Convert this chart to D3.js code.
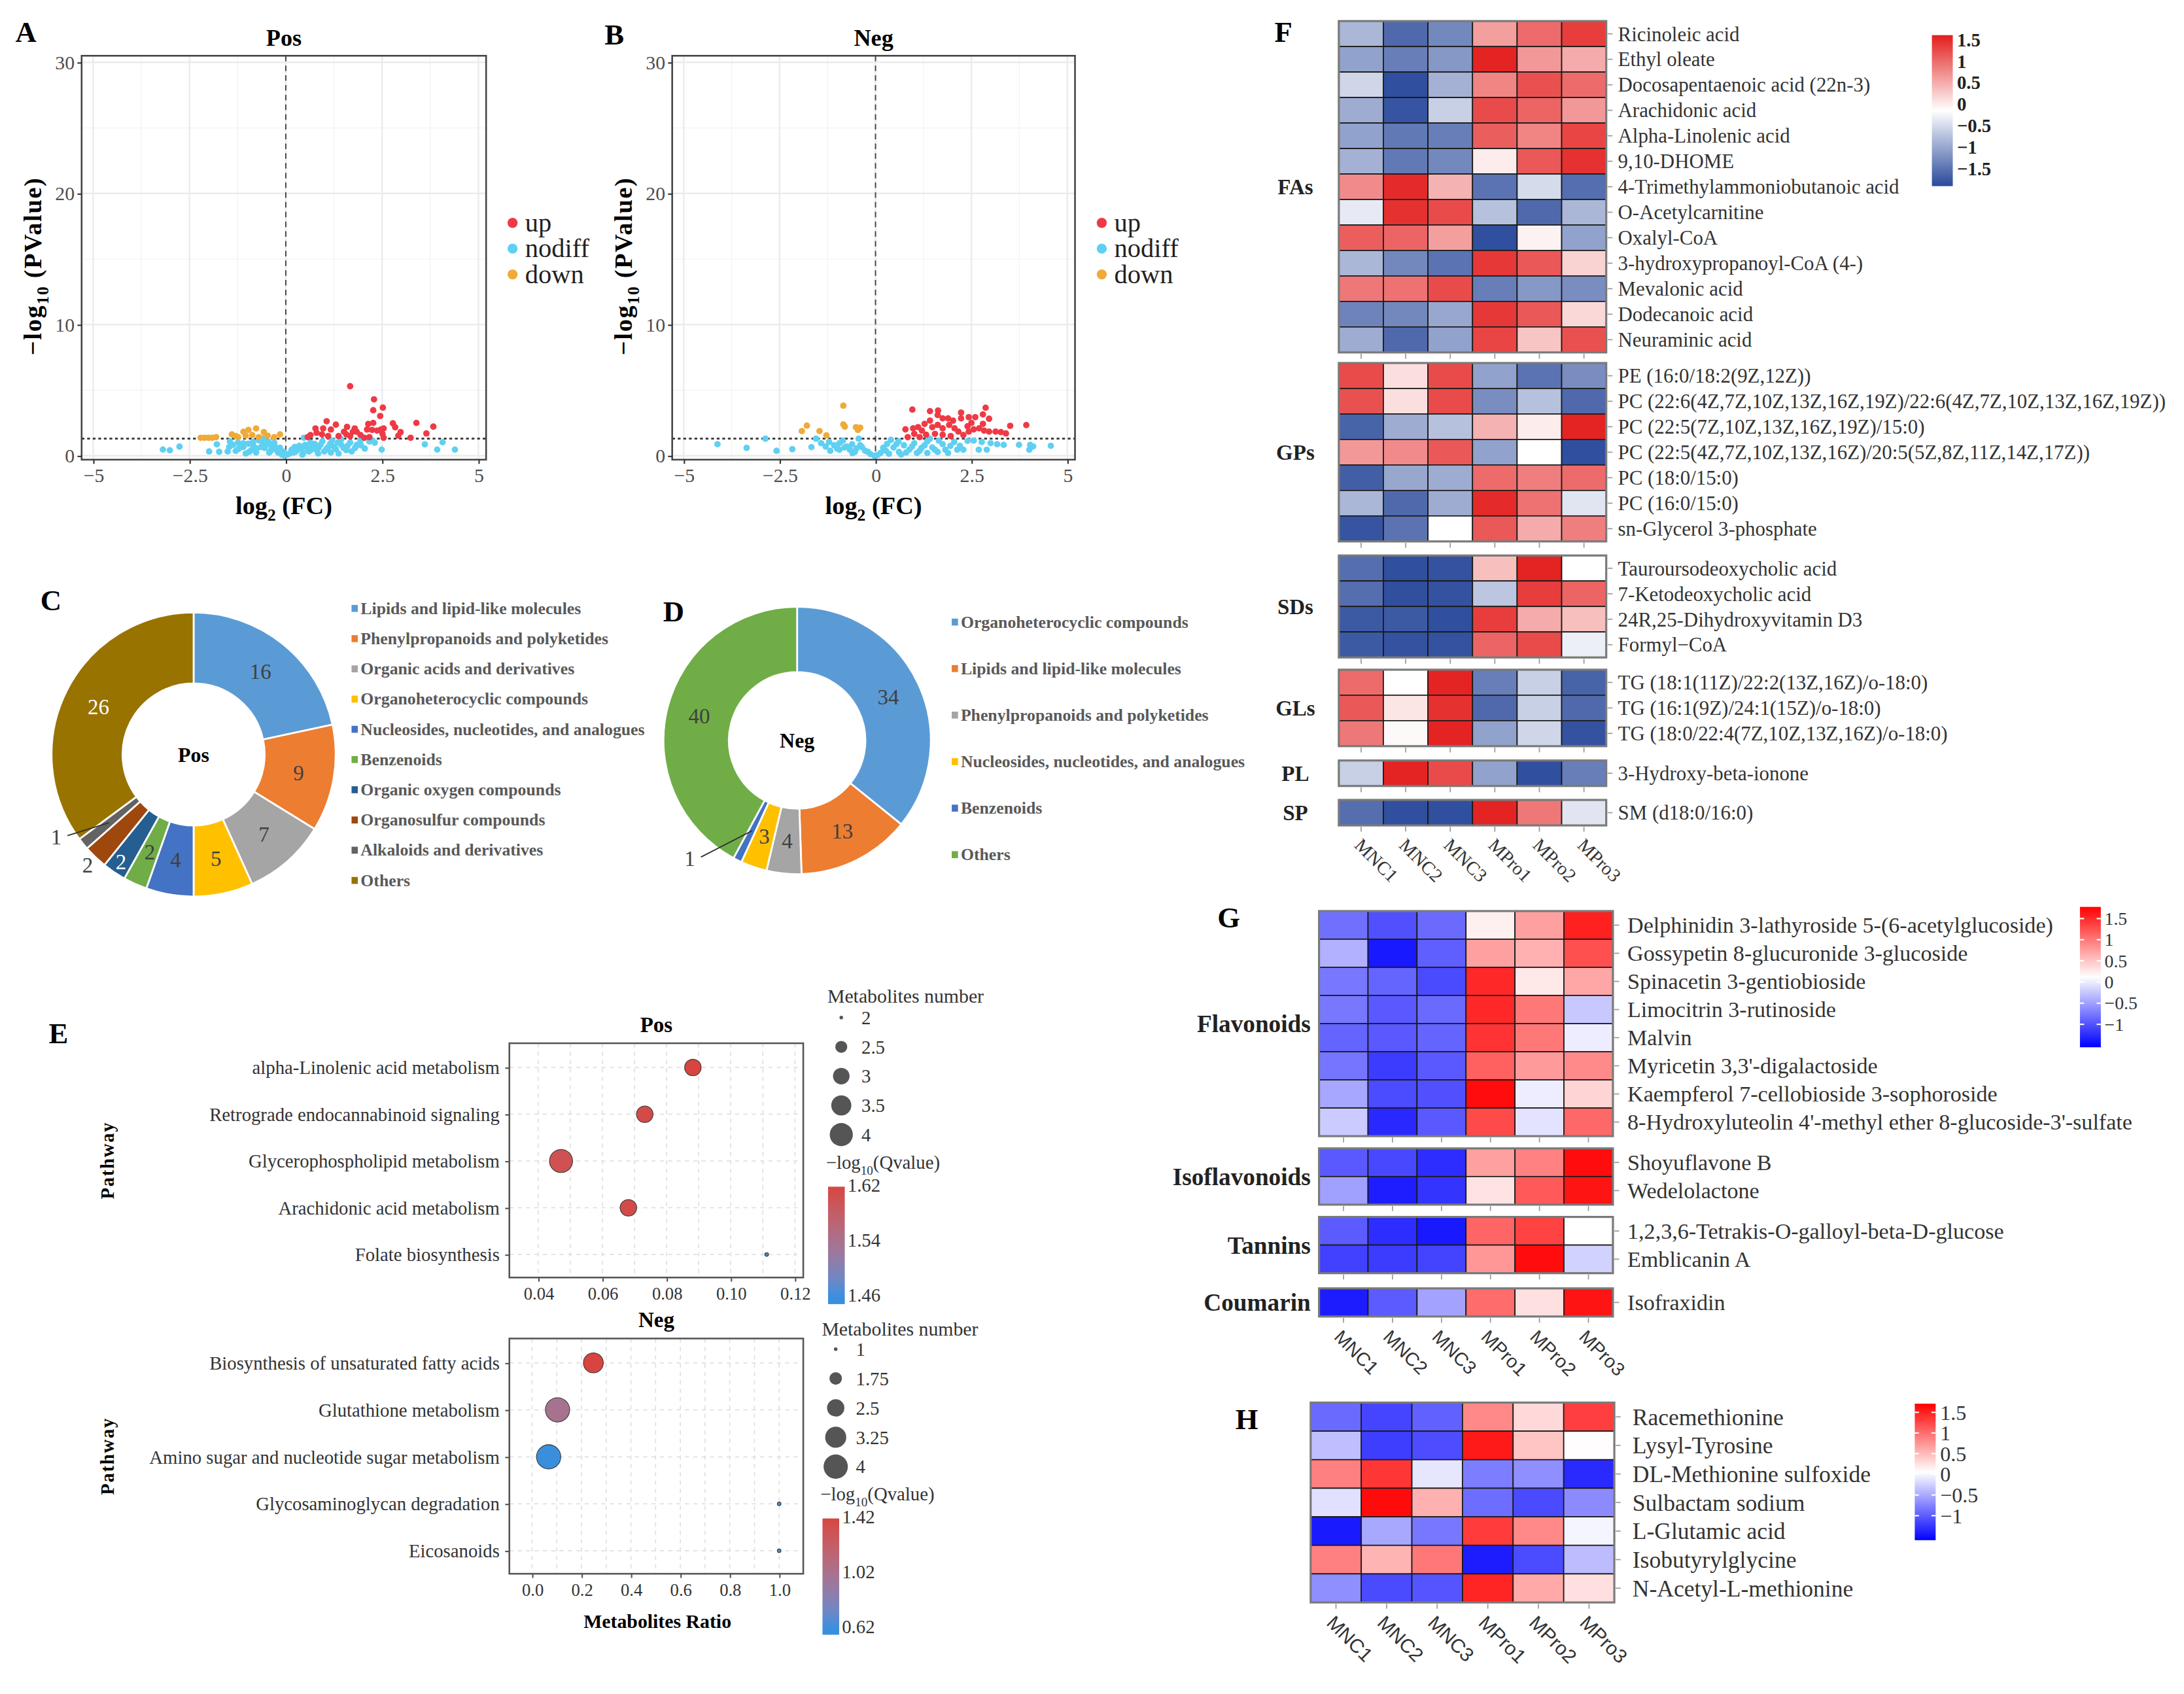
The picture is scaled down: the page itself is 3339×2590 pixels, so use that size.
<!DOCTYPE html>
<html>
<head>
<meta charset="utf-8">
<script src="https://cdn.jsdelivr.net/npm/d3@7"></script>
<style>
html, body { margin: 0; padding: 0; background: #fff; }
svg { display: block; }
</style>
</head>
<body>
<svg id="fig" width="3339" height="2590" viewBox="0 0 1568 1216.2"></svg>
<script>
// ---------- data ----------
// volcano plots: [log2FC, -log10 P]
const posUp = [[1.67,5.3],[2.29,4.3],[2.27,3.47],[2.52,3.67],[2.45,3.03],[1.06,2.63],[1.30,2.37],[1.59,2.2],[1.79,2.08],[2.14,2.42],[2.27,2.5],[2.78,2.47],[2.84,2.17],[3.39,2.5],[3.83,2.22],[3.65,1.7],[2.98,1.8],[2.92,1.53],[3.24,1.37],[0.77,2.08],[0.97,2.08],[0.64,1.58],[0.80,1.75],[0.94,1.63],[1.10,1.5],[1.37,1.5],[1.57,1.63],[1.67,1.5],[1.84,1.83],[1.94,1.58],[2.04,1.37],[2.11,2.0],[2.24,1.97],[2.37,1.92],[2.47,2.0],[2.54,2.08],[2.51,1.67],[2.54,1.37],[2.17,1.42],[1.51,1.83],[1.17,2.0],[0.57,1.42],[1.74,1.83]]
const posDown = [[-2.21,1.37],[-2.11,1.37],[-2.01,1.37],[-1.91,1.37],[-1.81,1.42],[-1.40,1.63],[-1.30,1.5],[-1.10,1.83],[-0.97,1.97],[-0.77,2.08],[-1.04,1.53],[-0.87,1.58],[-0.57,1.8],[-0.47,1.53],[-0.30,1.42],[-0.15,1.63],[-0.70,1.42],[-1.24,1.42]]
const posNodiff = [[-3.19,0.47],[-3.01,0.42],[-2.76,0.7],[-1.99,0.33],[-1.79,0.87],[-1.73,0.3],[-1.51,0.33],[-1.30,0.37],[-1.04,0.17],[-1.37,0.83],[-1.24,1.0],[-1.10,0.67],[-0.97,0.92],[-0.84,0.75],[-0.70,1.17],[-0.57,1.33],[-0.64,0.67],[-0.50,0.83],[-0.37,0.5],[-0.27,0.67],[-0.20,0.25],[-0.10,0.08],[-0.03,0.0],[-0.90,0.42],[-0.77,0.25],[-0.43,0.25],[-1.24,0.5],[-1.47,0.67],[-0.30,1.0],[0.10,0.17],[0.20,0.25],[0.30,0.42],[0.40,0.58],[0.47,1.37],[0.50,0.83],[0.60,0.33],[0.70,0.67],[0.80,0.42],[0.90,0.83],[1.00,0.33],[1.10,0.67],[1.20,1.17],[1.30,0.5],[1.44,0.83],[1.57,0.42],[1.71,0.33],[1.67,1.0],[1.84,0.83],[1.94,1.17],[2.17,1.08],[2.31,1.0],[2.49,0.47],[3.61,0.87],[3.93,0.47],[4.07,1.03],[4.39,0.47],[0.23,0.67],[0.64,1.0],[1.17,0.25],[1.37,0.17],[1.44,1.25],[0.43,0.08],[0.84,0.17],[-1.45,1.1],[-1.2,0.6],[-0.95,0.3],[-0.85,1.05],[-0.6,0.95],[-0.45,1.05],[-0.35,0.8],[-0.25,0.45],[-0.15,0.6],[-0.05,0.3],[0.05,0.1],[0.15,0.45],[0.25,0.3],[0.35,0.75],[0.45,0.2],[0.55,0.6],[0.65,0.45],[0.75,0.9],[0.85,0.6],[0.95,1.1],[1.05,0.5],[1.15,0.9],[1.25,0.7],[1.35,1.0],[1.5,0.6],[1.6,0.75],[1.8,0.6],[1.95,0.8],[2.05,0.55],[2.25,1.15],[-0.75,0.55],[-0.55,0.6],[-1.1,0.95],[-0.4,0.35]]
const negUp = [[0.96,3.52],[1.42,3.4],[1.63,3.45],[2.23,3.29],[2.87,3.66],[2.80,3.15],[2.96,2.82],[3.51,2.28],[3.93,2.34],[1.62,3.1],[1.75,2.85],[1.89,2.85],[2.02,2.68],[2.23,2.85],[2.43,2.94],[2.60,2.94],[2.50,2.5],[2.40,2.25],[2.80,2.43],[1.42,2.68],[1.28,2.43],[1.11,2.18],[0.98,2.09],[0.78,2.01],[1.21,1.92],[1.01,1.67],[0.84,1.42],[1.48,2.18],[1.62,2.35],[1.75,2.09],[1.92,2.35],[2.06,2.09],[2.16,1.84],[1.96,1.5],[2.29,1.58],[2.56,2.01],[2.70,2.09],[2.96,1.84],[3.13,1.84],[3.27,1.8],[3.40,1.7],[1.55,1.67],[1.32,1.6],[1.15,1.42],[1.75,1.6],[2.43,1.84],[2.83,1.92]]
const negDown = [[-0.84,3.82],[-0.84,2.39],[-0.80,2.22],[-1.79,2.3],[-1.92,1.88],[-1.46,1.88],[-1.28,1.55],[-0.51,2.17],[-0.40,2.14],[-0.46,1.97]]
const negNodiff = [[-4.12,0.88],[-3.36,0.6],[-2.87,1.3],[-2.58,0.38],[-2.17,0.5],[-1.67,0.66],[-1.55,1.3],[-1.42,0.96],[-1.21,1.05],[-1.08,0.8],[-0.94,0.46],[-1.18,0.38],[-0.81,0.63],[-0.67,0.46],[-0.54,0.29],[-0.44,1.3],[-0.40,0.8],[-0.27,0.38],[-0.13,0.12],[-0.03,0.0],[-0.61,0.88],[-0.94,0.96],[0.13,0.21],[0.27,0.38],[0.40,1.21],[0.47,0.63],[0.61,0.29],[0.74,0.8],[0.88,0.46],[1.01,0.96],[1.15,0.38],[1.28,0.8],[1.42,1.3],[1.48,0.63],[1.62,0.29],[1.75,0.88],[1.82,0.46],[2.13,0.46],[2.29,0.46],[2.40,1.13],[2.56,1.16],[2.77,1.05],[2.69,0.46],[2.90,0.46],[3.00,0.96],[3.17,0.88],[3.34,0.83],[3.74,0.83],[4.03,0.83],[4.11,0.71],[4.01,0.46],[4.57,0.76],[1.35,0.21],[0.67,0.09],[1.08,0.21],[1.89,0.21],[-1.3,0.7],[-1.0,0.55],[-0.75,0.7],[-0.5,0.55],[-0.2,0.3],[-0.35,0.65],[0.05,0.05],[0.2,0.6],[0.35,0.15],[0.55,0.9],[0.8,0.25],[0.95,0.7],[1.2,0.6],[1.35,1.1],[1.55,0.45],[1.65,1.15],[1.95,0.75],[2.05,1.05],[2.2,0.75],[0.3,0.9],[0.6,1.1],[-0.6,0.2],[-0.85,1.15]]
const volcanoXTicks = [-5, -2.5, 0, 2.5, 5]
const volcanoXMinor = [-3.75, -1.25, 1.25, 3.75]
const volcanoYTicks = [0, 10, 20, 30]
const volcanoYMinor = [5, 15, 25]
const pThreshold = 1.3

// class donuts
const classPosNames = ["Lipids and lipid-like molecules", "Phenylpropanoids and polyketides", "Organic acids and derivatives", "Organoheterocyclic compounds", "Nucleosides, nucleotides, and analogues", "Benzenoids", "Organic oxygen compounds", "Organosulfur compounds", "Alkaloids and derivatives", "Others"]
const classPosCounts = [16, 9, 7, 5, 4, 2, 2, 2, 1, 26]
const classNegNames = ["Organoheterocyclic compounds", "Lipids and lipid-like molecules", "Phenylpropanoids and polyketides", "Nucleosides, nucleotides, and analogues", "Benzenoids", "Others"]
const classNegCounts = [34, 13, 4, 3, 1, 40]

// KEGG enrichment
const pathPosNames = ["alpha-Linolenic acid metabolism", "Retrograde endocannabinoid signaling", "Glycerophospholipid metabolism", "Arachidonic acid metabolism", "Folate biosynthesis"]
const pathPosRatio = [0.0882, 0.0732, 0.0471, 0.0681, 0.1112]
const pathPosCount = [3, 3, 4, 3, 2]
const pathPosQ = [1.62, 1.61, 1.60, 1.61, 1.46]
const pathPosRatioTicks = [0.04, 0.06, 0.08, 0.10, 0.12]
const pathPosRatioMinor = [0.05, 0.07, 0.09, 0.11]
const pathPosSizeTicks = [2, 2.5, 3, 3.5, 4]
const pathPosQTicks = [1.46, 1.54, 1.62]
const pathNegNames = ["Biosynthesis of unsaturated fatty acids", "Glutathione metabolism", "Amino sugar and nucleotide sugar metabolism", "Glycosaminoglycan degradation", "Eicosanoids"]
const pathNegRatio = [0.248, 0.103, 0.067, 1.0, 1.0]
const pathNegCount = [3, 4, 4, 1, 1]
const pathNegQ = [1.42, 1.0, 0.62, 0.64, 0.64]
const pathNegRatioTicks = [0.0, 0.2, 0.4, 0.6, 0.8, 1.0]
const pathNegRatioMinor = [0.1, 0.3, 0.5, 0.7, 0.9]
const pathNegSizeTicks = [1, 1.75, 2.5, 3.25, 4]
const pathNegQTicks = [0.62, 1.02, 1.42]

// heatmaps
const samples = ["MNC1", "MNC2", "MNC3", "MPro1", "MPro2", "MPro3"]

const fFAsNames = ["Ricinoleic acid", "Ethyl oleate", "Docosapentaenoic acid (22n-3)", "Arachidonic acid", "Alpha-Linolenic acid", "9,10-DHOME", "4-Trimethylammoniobutanoic acid", "O-Acetylcarnitine", "Oxalyl-CoA", "3-hydroxypropanoyl-CoA (4-)", "Mevalonic acid", "Dodecanoic acid", "Neuraminic acid"]
const fFAsValues = [
  [-0.85, -1.6, -1.3, 0.6, 1.0, 1.35],
  [-1.05, -1.4, -1.15, 1.55, 0.65, 0.5],
  [-0.55, -1.85, -0.9, 0.8, 1.2, 1.0],
  [-0.95, -1.8, -0.6, 1.25, 1.05, 0.65],
  [-1.05, -1.45, -1.4, 1.1, 0.8, 1.3],
  [-0.9, -1.45, -1.3, 0.0, 1.15, 1.45],
  [0.75, 1.5, 0.45, -1.5, -0.5, -1.55],
  [-0.35, 1.45, 1.25, -0.75, -1.6, -0.85],
  [1.1, 1.05, 0.6, -1.85, -0.05, -1.05],
  [-0.85, -1.3, -1.5, 1.4, 1.15, 0.2],
  [0.9, 0.95, 1.25, -1.4, -1.15, -1.25],
  [-1.35, -1.3, -1.0, 1.4, 1.15, 0.15],
  [-0.95, -1.6, -1.05, 1.3, 0.3, 1.2]
]
const fGPsNames = ["PE (16:0/18:2(9Z,12Z))", "PC (22:6(4Z,7Z,10Z,13Z,16Z,19Z)/22:6(4Z,7Z,10Z,13Z,16Z,19Z))", "PC (22:5(7Z,10Z,13Z,16Z,19Z)/15:0)", "PC (22:5(4Z,7Z,10Z,13Z,16Z)/20:5(5Z,8Z,11Z,14Z,17Z))", "PC (18:0/15:0)", "PC (16:0/15:0)", "sn-Glycerol 3-phosphate"]
const fGPsValues = [
  [1.25, 0.1, 1.25, -1.05, -1.5, -1.25],
  [1.2, 0.1, 1.25, -1.25, -0.75, -1.6],
  [-1.65, -0.95, -0.75, 0.45, 0.0, 1.55],
  [0.65, 0.75, 1.15, -1.05, -0.15, -1.85],
  [-1.7, -1.0, -0.95, 1.0, 0.85, 1.0],
  [-0.85, -1.6, -0.95, 1.5, 0.95, -0.4],
  [-1.8, -1.5, -0.15, 1.15, 0.5, 0.85]
]
const fSDsNames = ["Tauroursodeoxycholic acid", "7-Ketodeoxycholic acid", "24R,25-Dihydroxyvitamin D3", "Formyl\u2212CoA"]
const fSDsValues = [
  [-1.55, -1.85, -1.82, 0.35, 1.55, -0.15],
  [-1.55, -1.85, -1.82, -0.7, 1.35, 1.05],
  [-1.75, -1.75, -1.85, 1.35, 0.5, 0.35],
  [-1.75, -1.82, -1.82, 1.05, 1.25, -0.3]
]
const fGLsNames = ["TG (18:1(11Z)/22:2(13Z,16Z)/o-18:0)", "TG (16:1(9Z)/24:1(15Z)/o-18:0)", "TG (18:0/22:4(7Z,10Z,13Z,16Z)/o-18:0)"]
const fGLsValues = [
  [1.0, -0.15, 1.55, -1.4, -0.6, -1.65],
  [1.15, 0.05, 1.45, -1.6, -0.6, -1.6],
  [0.9, -0.1, 1.55, -1.05, -0.55, -1.82]
]
const fPLNames = ["3-Hydroxy-beta-ionone"]
const fPLValues = [[-0.6, 1.55, 1.25, -1.05, -1.85, -1.4]]
const fSPNames = ["SM (d18:0/16:0)"]
const fSPValues = [[-1.55, -1.85, -1.85, 1.55, 0.9, -0.4]]
const fLegendTicks = [1.5, 1, 0.5, 0, -0.5, -1, -1.5]

const gFlavNames = ["Delphinidin 3-lathyroside 5-(6-acetylglucoside)", "Gossypetin 8-glucuronide 3-glucoside", "Spinacetin 3-gentiobioside", "Limocitrin 3-rutinoside", "Malvin", "Myricetin 3,3'-digalactoside", "Kaempferol 7-cellobioside 3-sophoroside", "8-Hydroxyluteolin 4'-methyl ether 8-glucoside-3'-sulfate"]
const gFlavValues = [
  [-0.81, -1.02, -0.85, 0.22, 0.74, 1.57],
  [-0.39, -1.38, -0.92, 0.74, 0.63, 1.26],
  [-0.76, -0.89, -1.06, 1.52, 0.27, 0.7],
  [-0.76, -0.96, -0.85, 1.52, 1.0, -0.24],
  [-0.89, -0.96, -0.89, 1.45, 1.0, 0.0],
  [-0.78, -1.15, -0.96, 1.15, 0.78, 0.88],
  [-0.45, -1.05, -1.02, 1.7, 0.0, 0.4],
  [-0.22, -1.27, -0.96, 1.3, -0.06, 1.1]
]
const gIsoNames = ["Shoyuflavone B", "Wedelolactone"]
const gIsoValues = [
  [-0.96, -1.07, -1.25, 0.74, 0.94, 1.7],
  [-0.5, -1.35, -1.2, 0.3, 1.2, 1.65]
]
const gTanNames = ["1,2,3,6-Tetrakis-O-galloyl-beta-D-glucose", "Emblicanin A"]
const gTanValues = [
  [-0.95, -1.25, -1.38, 1.12, 1.35, 0.12],
  [-1.12, -1.15, -1.1, 0.8, 1.7, -0.17]
]
const gCouNames = ["Isofraxidin"]
const gCouValues = [[-1.36, -0.95, -0.48, 1.08, 0.32, 1.65]]
const gLegendTicks = [1.5, 1, 0.5, 0, -0.5, -1]

const hNames = ["Racemethionine", "Lysyl-Tyrosine", "DL-Methionine sulfoxide", "Sulbactam sodium", "L-Glutamic acid", "Isobutyrylglycine", "N-Acetyl-L-methionine"]
const hValues = [
  [-0.91, -1.15, -0.97, 0.83, 0.3, 1.3],
  [-0.36, -1.2, -1.1, 1.54, 0.44, 0.07],
  [0.88, 1.36, -0.11, -0.79, -0.67, -1.33],
  [-0.14, 1.64, 0.57, -0.89, -1.12, -0.7],
  [-1.43, -0.51, -0.82, 1.33, 0.82, -0.01],
  [0.88, 0.54, 0.93, -1.42, -1.11, -0.38],
  [-0.67, -1.12, -1.05, 1.47, 0.61, 0.26]
]
const hLegendTicks = [1.5, 1, 0.5, 0, -0.5, -1]

// ---------- drawing ----------
const SERIF = '"Liberation Serif","Times New Roman",serif'
const SANS = '"Liberation Sans",Arial,sans-serif'
const svg = d3.select("#fig")
svg.append("rect").attr("width", 1568).attr("height", 1216.2).attr("fill", "#fff")
const defs = svg.append("defs")

function label(x, y, txt, size) {
  svg.append("text").attr("x", x).attr("y", y).text(txt)
    .attr("font-family", SERIF).attr("font-weight", "bold").attr("font-size", size || 21).attr("fill", "#000")
}
label(11, 30, "A"); label(434, 32, "B"); label(29, 438, "C"); label(476, 446, "D")
label(35, 749, "E"); label(915, 30, "F"); label(874, 666, "G"); label(887, 1026, "H")

// volcano
const upColor = "#EE3A46", nodiffColor = "#5FD0F2", downColor = "#EFAA38"

function volcano(o) {
  const g = svg.append("g")
  const x = d3.scaleLinear().domain([-5.3, 5.2]).range([o.left, o.right])
  const y = d3.scaleLinear().domain([-0.3, 30.5]).range([o.bottom, o.top])

  g.selectAll(".mx").data(volcanoXMinor).join("line")
    .attr("x1", d => x(d)).attr("x2", d => x(d)).attr("y1", o.top).attr("y2", o.bottom)
    .attr("stroke", "#f3f3f3").attr("stroke-width", 0.6)
  g.selectAll(".my").data(volcanoYMinor).join("line")
    .attr("y1", d => y(d)).attr("y2", d => y(d)).attr("x1", o.left).attr("x2", o.right)
    .attr("stroke", "#f3f3f3").attr("stroke-width", 0.6)
  g.selectAll(".gx").data(volcanoXTicks).join("line")
    .attr("x1", d => x(d)).attr("x2", d => x(d)).attr("y1", o.top).attr("y2", o.bottom)
    .attr("stroke", "#ebebeb").attr("stroke-width", 1.1)
  g.selectAll(".gy").data(volcanoYTicks).join("line")
    .attr("y1", d => y(d)).attr("y2", d => y(d)).attr("x1", o.left).attr("x2", o.right)
    .attr("stroke", "#ebebeb").attr("stroke-width", 1.1)

  g.append("line").attr("x1", x(0)).attr("x2", x(0)).attr("y1", o.top).attr("y2", o.bottom)
    .attr("stroke", "#444").attr("stroke-width", 0.9).attr("stroke-dasharray", "4,3")
  g.append("line").attr("x1", o.left).attr("x2", o.right).attr("y1", y(pThreshold)).attr("y2", y(pThreshold))
    .attr("stroke", "#333").attr("stroke-width", 1.3).attr("stroke-dasharray", "2,2")

  const layers = [[o.nodiff, nodiffColor], [o.down, downColor], [o.up, upColor]]
  layers.forEach(([pts, col]) => {
    g.append("g").selectAll("circle").data(pts).join("circle")
      .attr("cx", d => x(d[0])).attr("cy", d => y(d[1])).attr("r", 2.3).attr("fill", col)
  })

  g.append("rect").attr("x", o.left).attr("y", o.top).attr("width", o.right - o.left).attr("height", o.bottom - o.top)
    .attr("fill", "none").attr("stroke", "#444").attr("stroke-width", 1.2)

  const ax = g.append("g").attr("transform", `translate(0,${o.bottom})`)
    .call(d3.axisBottom(x).tickValues(volcanoXTicks).tickSize(3).tickPadding(3).tickFormat(d3.format("~g")))
  const ay = g.append("g").attr("transform", `translate(${o.left},0)`)
    .call(d3.axisLeft(y).tickValues(volcanoYTicks).tickSize(3).tickPadding(2))
  ;[ax, ay].forEach(a => {
    a.select(".domain").remove()
    a.attr("font-family", SERIF).attr("font-size", 14)
    a.selectAll("text").attr("fill", "#4d4d4d")
    a.selectAll("line").attr("stroke", "#333")
  })

  g.append("text").attr("x", (o.left + o.right) / 2).attr("y", o.top - 7).attr("text-anchor", "middle")
    .attr("font-family", SERIF).attr("font-weight", "bold").attr("font-size", 17).text(o.title)

  const xl = g.append("text").attr("x", (o.left + o.right) / 2).attr("y", o.bottom + 39).attr("text-anchor", "middle")
    .attr("font-family", SERIF).attr("font-weight", "bold").attr("font-size", 18)
  xl.append("tspan").text("log")
  xl.append("tspan").text("2").attr("font-size", 12).attr("dy", 5)
  xl.append("tspan").text(" (FC)").attr("dy", -5)

  const yl = g.append("text").attr("transform", `translate(${o.left - 29},${(o.top + o.bottom) / 2 + 6}) rotate(-90)`)
    .attr("text-anchor", "middle").attr("font-family", SERIF).attr("font-weight", "bold").attr("font-size", 18)
    .attr("letter-spacing", 0.8)
  yl.append("tspan").text("\u2212log")
  yl.append("tspan").text("10").attr("font-size", 12).attr("dy", 5)
  yl.append("tspan").text(" (PValue)").attr("dy", -5)

  const leg = g.append("g").attr("transform", `translate(${o.legendX},160)`)
  const legItems = [["up", upColor], ["nodiff", nodiffColor], ["down", downColor]]
  leg.selectAll("circle").data(legItems).join("circle")
    .attr("cx", 0).attr("cy", (d, i) => i * 18.5).attr("r", 3.6).attr("fill", d => d[1])
  leg.selectAll("text").data(legItems).join("text")
    .attr("x", 9).attr("y", (d, i) => i * 18.5).attr("dy", "0.32em")
    .attr("font-family", SERIF).attr("font-size", 19).attr("fill", "#222").text(d => d[0])
}

volcano({ left: 58.6, right: 349, top: 40, bottom: 330, title: "Pos", up: posUp, down: posDown, nodiff: posNodiff, legendX: 368 })
volcano({ left: 482.6, right: 771.8, top: 40, bottom: 330, title: "Neg", up: negUp, down: negDown, nodiff: negNodiff, legendX: 791 })

// donuts
const excelColors = ["#5B9BD5", "#ED7D31", "#A5A5A5", "#FFC000", "#4472C4", "#70AD47", "#255E91", "#9E480E", "#636363", "#997300"]

function donut(o) {
  const g = svg.append("g").attr("transform", `translate(${o.cx},${o.cy})`)
  const pie = d3.pie().sort(null).value(d => d)(o.counts)
  const arc = d3.arc().innerRadius(o.r0).outerRadius(o.r1)
  g.selectAll("path").data(pie).join("path")
    .attr("d", arc).attr("fill", (d, i) => o.colors[i]).attr("stroke", "#fff").attr("stroke-width", 1.3)

  const rad = a => a * Math.PI / 180
  pie.forEach((d, i) => {
    const place = o.place[i] || {}
    const mid = (d.startAngle + d.endAngle) / 2
    let px, py
    if (place.r) {
      const a = place.a != null ? rad(place.a) : mid
      px = Math.sin(a) * place.r; py = -Math.cos(a) * place.r
    } else {
      [px, py] = arc.centroid(d)
    }
    if (place.leader) {
      const ex = Math.sin(mid) * place.lr, ey = -Math.cos(mid) * place.lr
      g.append("line").attr("x1", px + 8).attr("y1", py - 1).attr("x2", ex).attr("y2", ey)
        .attr("stroke", "#333").attr("stroke-width", 0.9)
    }
    g.append("text").attr("x", px).attr("y", py).attr("dy", "0.35em").attr("text-anchor", "middle")
      .attr("font-family", SERIF).attr("font-size", 15.5)
      .attr("fill", o.white.includes(i) ? "#fff" : "#404040").text(d.data)
  })
  g.append("text").attr("x", 0).attr("y", 0).attr("dy", "0.35em").attr("text-anchor", "middle")
    .attr("font-family", SERIF).attr("font-weight", "bold").attr("font-size", 15).text(o.title)

  const leg = svg.append("g").attr("transform", `translate(${o.legX},${o.legY})`)
  leg.selectAll("rect").data(o.names).join("rect")
    .attr("x", 0).attr("y", (d, i) => i * o.legStep - 2.5).attr("width", 4.5).attr("height", 5)
    .attr("fill", (d, i) => o.colors[i])
  leg.selectAll("text").data(o.names).join("text")
    .attr("x", 6.5).attr("y", (d, i) => i * o.legStep).attr("dy", "0.33em")
    .attr("font-family", SERIF).attr("font-weight", "bold").attr("font-size", 12.1).attr("fill", "#595959").text(d => d)
}

donut({ cx: 139, cy: 541.7, r0: 51, r1: 102, counts: classPosCounts, names: classPosNames, colors: excelColors, title: "Pos",
  place: { 6: { r: 93 }, 7: { r: 110 }, 8: { r: 115, a: 239, leader: true, lr: 78 } }, white: [6, 9],
  legX: 252.4, legY: 436.8, legStep: 21.7 })
donut({ cx: 572.3, cy: 531.6, r0: 49, r1: 96, counts: classNegCounts, names: classNegNames, colors: excelColors.slice(0, 6), title: "Neg",
  place: { 4: { r: 114.5, a: 222.3, leader: true, lr: 72.5 } }, white: [],
  legX: 683.3, legY: 446.6, legStep: 33.4 })

// KEGG bubble charts
function colorBar(o) {
  const id = o.id
  const bar = d3.scaleLinear().domain(o.labelDomain).range(o.labelRange)
  const vTop = bar.invert(o.y0), vBot = bar.invert(o.y1)
  const grad = defs.append("linearGradient").attr("id", id).attr("x1", 0).attr("y1", 1).attr("x2", 0).attr("y2", 0)
  d3.range(0, 1.0001, 0.05).forEach(t => {
    grad.append("stop").attr("offset", t).attr("stop-color", o.color(vBot + t * (vTop - vBot)))
  })
  svg.append("rect").attr("x", o.x).attr("y", o.y0).attr("width", o.w).attr("height", o.y1 - o.y0).attr("fill", `url(#${id})`)
  if (o.whiteTicks) {
    o.ticks.forEach(t => {
      svg.append("line").attr("x1", o.x).attr("x2", o.x + 3).attr("y1", bar(t)).attr("y2", bar(t)).attr("stroke", "#fff").attr("stroke-width", 1)
      svg.append("line").attr("x1", o.x + o.w - 3).attr("x2", o.x + o.w).attr("y1", bar(t)).attr("y2", bar(t)).attr("stroke", "#fff").attr("stroke-width", 1)
    })
  }
  svg.append("g").selectAll("text").data(o.ticks).join("text")
    .attr("x", o.tx).attr("y", d => bar(d)).attr("dy", "0.35em")
    .attr("font-family", o.font || SERIF).attr("font-weight", o.bold ? "bold" : "normal").attr("font-size", o.fs)
    .attr("fill", o.fill || "#333").text(d => o.fmt(d))
}

function bubble(o) {
  const g = svg.append("g")
  const x = d3.scaleLinear().domain(o.xDomain).range([o.left, o.right])
  const y = d3.scalePoint().domain(o.names).range(o.yRange)
  const area = d3.scaleLinear().domain(o.sizeDomain).range(o.rRange.map(r => r * r))
  const rad = v => Math.sqrt(area(v))
  const col = d3.scaleLinear().domain(o.qDomain).range(["#3A8FDD", "#D8443F"]).interpolate(d3.interpolateLab).clamp(true)

  g.append("g").selectAll("line").data(o.xTicks.concat(o.xMinor)).join("line")
    .attr("x1", d => x(d)).attr("x2", d => x(d)).attr("y1", o.top).attr("y2", o.bottom)
    .attr("stroke", "#dcdcdc").attr("stroke-width", 0.7).attr("stroke-dasharray", "3,3")
  g.append("g").selectAll("line").data(o.names).join("line")
    .attr("x1", o.left).attr("x2", o.right).attr("y1", d => y(d)).attr("y2", d => y(d))
    .attr("stroke", "#dcdcdc").attr("stroke-width", 0.7).attr("stroke-dasharray", "3,3")

  const rows = o.names.map((n, i) => ({ n, r: o.ratio[i], c: o.count[i], q: o.q[i] }))
  g.append("g").selectAll("circle").data(rows).join("circle")
    .attr("cx", d => x(d.r)).attr("cy", d => y(d.n)).attr("r", d => rad(d.c))
    .attr("fill", d => col(d.q)).attr("stroke", "#333").attr("stroke-width", 0.5)

  g.append("rect").attr("x", o.left).attr("y", o.top).attr("width", o.right - o.left).attr("height", o.bottom - o.top)
    .attr("fill", "none").attr("stroke", "#555").attr("stroke-width", 1.2)

  const ax = g.append("g").attr("transform", `translate(0,${o.bottom})`)
    .call(d3.axisBottom(x).tickValues(o.xTicks).tickSize(3).tickPadding(4).tickFormat(d3.format(o.fmt)))
  const ay = g.append("g").attr("transform", `translate(${o.left},0)`)
    .call(d3.axisLeft(y).tickSize(3).tickPadding(4))
  ;[ax, ay].forEach(a => {
    a.select(".domain").remove()
    a.attr("font-family", SERIF).attr("font-size", 13.5)
    a.selectAll("text").attr("fill", "#333")
    a.selectAll("line").attr("stroke", "#555")
  })
  ax.attr("font-size", 12.5)

  g.append("text").attr("x", (o.left + o.right) / 2).attr("y", o.top - 8).attr("text-anchor", "middle")
    .attr("font-family", SERIF).attr("font-weight", "bold").attr("font-size", 15.5).text(o.title)
  g.append("text").attr("transform", `translate(81.6,${(o.top + o.bottom) / 2}) rotate(-90)`).attr("text-anchor", "middle")
    .attr("font-family", SERIF).attr("font-weight", "bold").attr("font-size", 13.5).attr("letter-spacing", 0.8).text("Pathway")

  // size legend
  g.append("text").attr("x", o.szX - 10).attr("y", o.szTitleY).attr("dy", "0.35em")
    .attr("font-family", SERIF).attr("font-size", 14).attr("fill", "#333").text("Metabolites number")
  g.append("g").selectAll("circle").data(o.sizeTicks).join("circle")
    .attr("cx", o.szX).attr("cy", (d, i) => o.szY + i * o.szStep).attr("r", d => rad(d)).attr("fill", "#555")
  g.append("g").selectAll("text").data(o.sizeTicks).join("text")
    .attr("x", o.szX + 14.5).attr("y", (d, i) => o.szY + i * o.szStep).attr("dy", "0.35em")
    .attr("font-family", SERIF).attr("font-size", 13.5).attr("fill", "#333").text(d => d)

  const ct = g.append("text").attr("x", o.cbX - 1.5).attr("y", o.cbTitleY).attr("dy", "0.35em")
    .attr("font-family", SERIF).attr("font-size", 13.5).attr("fill", "#333")
  ct.append("tspan").text("\u2212log")
  ct.append("tspan").text("10").attr("font-size", 9).attr("dy", 4)
  ct.append("tspan").text("(Qvalue)").attr("dy", -4)

  colorBar({ id: o.id, x: o.cbX, w: 12, y0: o.cbY0, y1: o.cbY1, labelDomain: [o.qTicks[0], o.qTicks[o.qTicks.length - 1]],
    labelRange: o.cbLabelRange, color: col, ticks: o.qTicks, tx: o.cbX + 14, fs: 13.5, fmt: d3.format(".2f") })
}

bubble({ id: "qpos", title: "Pos", names: pathPosNames, ratio: pathPosRatio, count: pathPosCount, q: pathPosQ,
  left: 365.7, right: 576.7, top: 749, bottom: 917.2, yRange: [766.4, 900.7],
  xDomain: [0.031, 0.1226], xTicks: pathPosRatioTicks, xMinor: pathPosRatioMinor, fmt: ".2f",
  sizeDomain: [2, 4], rRange: [1.3, 8.3], sizeTicks: pathPosSizeTicks, qDomain: [1.46, 1.62], qTicks: pathPosQTicks,
  szX: 604, szY: 730.6, szStep: 21, szTitleY: 715,
  cbX: 594.5, cbY0: 852, cbY1: 936.3, cbTitleY: 834.6, cbLabelRange: [929.9, 851] })

bubble({ id: "qneg", title: "Neg", names: pathNegNames, ratio: pathNegRatio, count: pathNegCount, q: pathNegQ,
  left: 365.7, right: 576.7, top: 961, bottom: 1129.9, yRange: [978.5, 1113.4],
  xDomain: [-0.092, 1.0975], xTicks: pathNegRatioTicks, xMinor: pathNegRatioMinor, fmt: ".1f",
  sizeDomain: [1, 4], rRange: [1.3, 8.7], sizeTicks: pathNegSizeTicks, qDomain: [0.62, 1.42], qTicks: pathNegQTicks,
  szX: 600, szY: 968.6, szStep: 21.1, szTitleY: 953.8,
  cbX: 590.5, cbY0: 1090.2, cbY1: 1173.7, cbTitleY: 1072.7, cbLabelRange: [1168, 1089] })

svg.append("text").attr("x", 472).attr("y", 1164).attr("dy", "0.35em").attr("text-anchor", "middle")
  .attr("font-family", SERIF).attr("font-weight", "bold").attr("font-size", 14).text("Metabolites Ratio")

// heatmaps
function heatmap(o) {
  const g = svg.append("g")
  const x = d3.scaleBand().domain(samples).range([o.x0, o.x1])
  let lastBottom = 0
  o.blocks.forEach((b, bi) => {
    const top = o.tops[bi]
    const bottom = top + b.names.length * o.rowH
    lastBottom = bottom
    const y = d3.scaleBand().domain(b.names).range([top, bottom])
    const cells = []
    b.values.forEach((row, i) => row.forEach((v, j) => cells.push({ n: b.names[i], s: samples[j], v })))
    g.append("g").selectAll("rect").data(cells).join("rect")
      .attr("x", d => x(d.s)).attr("y", d => y(d.n)).attr("width", x.bandwidth()).attr("height", y.bandwidth())
      .attr("fill", d => o.color(d.v)).attr("stroke", "#1a1a1a").attr("stroke-width", 0.8)
    g.append("rect").attr("x", o.x0).attr("y", top).attr("width", o.x1 - o.x0).attr("height", bottom - top)
      .attr("fill", "none").attr("stroke", "#7a7a7a").attr("stroke-width", 1.5)
    // row ticks + labels
    g.append("g").selectAll("line").data(b.names).join("line")
      .attr("x1", o.x1 + 1).attr("x2", o.x1 + 4.5).attr("y1", d => y(d) + y.bandwidth() / 2).attr("y2", d => y(d) + y.bandwidth() / 2)
      .attr("stroke", "#999").attr("stroke-width", 0.8)
    g.append("g").selectAll("text").data(b.names).join("text")
      .attr("x", o.labelX).attr("y", d => y(d) + y.bandwidth() / 2).attr("dy", "0.35em")
      .attr("font-family", SERIF).attr("font-size", o.rowFs).attr("fill", "#333").text(d => d)
    // column ticks
    g.append("g").selectAll("line").data(samples).join("line")
      .attr("x1", d => x(d) + x.bandwidth() / 2).attr("x2", d => x(d) + x.bandwidth() / 2)
      .attr("y1", bottom + 1).attr("y2", bottom + 4.5).attr("stroke", "#999").attr("stroke-width", 0.8)
    // group label
    if (b.label) {
      g.append("text").attr("x", o.groupX).attr("y", (top + bottom) / 2).attr("dy", "0.35em")
        .attr("text-anchor", o.groupAnchor).attr("font-family", SERIF).attr("font-weight", "bold")
        .attr("font-size", o.groupFs).attr("fill", "#222").text(b.label)
    }
  })
  g.append("g").selectAll("text").data(samples).join("text")
    .attr("transform", d => `translate(${x(d) + x.bandwidth() / 2 + o.colDx},${lastBottom + o.colDy}) rotate(45)`)
    .attr("font-family", o.colFont).attr("font-size", o.colFs).attr("fill", "#333").text(d => d)
}

const fColor = d3.scaleLinear().domain([-1.9, -0.15, 1.6]).range(["#2A4A9B", "#FFFFFF", "#E31E1D"]).clamp(true)
heatmap({ x0: 961.2, x1: 1153.2, rowH: 18.3, tops: [15.1, 260.6, 398.8, 480.8, 546, 574.3], color: fColor,
  blocks: [
    { label: "FAs", names: fFAsNames, values: fFAsValues },
    { label: "GPs", names: fGPsNames, values: fGPsValues },
    { label: "SDs", names: fSDsNames, values: fSDsValues },
    { label: "GLs", names: fGLsNames, values: fGLsValues },
    { label: "PL", names: fPLNames, values: fPLValues },
    { label: "SP", names: fSPNames, values: fSPValues }
  ],
  labelX: 1161.6, rowFs: 14.5, groupX: 930, groupAnchor: "middle", groupFs: 15.5,
  colDx: -5.5, colDy: 15, colFont: SERIF, colFs: 13.5 })
colorBar({ id: "fbar", x: 1387, w: 15, y0: 25.2, y1: 133.6, labelDomain: [-1.5, 1.5], labelRange: [121, 28.5],
  color: fColor, ticks: fLegendTicks, tx: 1405, fs: 13.5, bold: true, fill: "#222", fmt: d3.format("~g") })

const gColor = d3.scaleLinear().domain([-1.54, 0.12, 1.78]).range(["#0000FF", "#FFFFFF", "#FF0000"]).clamp(true)
heatmap({ x0: 947, x1: 1158, rowH: 20.2, tops: [654.1, 824.5, 873.7, 925], color: gColor,
  blocks: [
    { label: "Flavonoids", names: gFlavNames, values: gFlavValues },
    { label: "Isoflavonoids", names: gIsoNames, values: gIsoValues },
    { label: "Tannins", names: gTanNames, values: gTanValues },
    { label: "Coumarin", names: gCouNames, values: gCouValues }
  ],
  labelX: 1168.4, rowFs: 16, groupX: 941, groupAnchor: "end", groupFs: 17.5,
  colDx: -7.5, colDy: 15.5, colFont: SANS, colFs: 13.5 })
colorBar({ id: "gbar", x: 1493.3, w: 15, y0: 651.1, y1: 751.9, labelDomain: [-1, 1.5], labelRange: [735.4, 659.5],
  color: gColor, ticks: gLegendTicks, tx: 1511, fs: 13, whiteTicks: true, fmt: d3.format("~g") })

const hColor = d3.scaleLinear().domain([-1.6, 0.055, 1.71]).range(["#0000FF", "#FFFFFF", "#FF0000"]).clamp(true)
heatmap({ x0: 941, x1: 1159, rowH: 20.5, tops: [1007], color: hColor,
  blocks: [{ label: null, names: hNames, values: hValues }],
  labelX: 1172, rowFs: 16.7, groupX: 0, groupAnchor: "end", groupFs: 16,
  colDx: -7.5, colDy: 15.5, colFont: SANS, colFs: 14 })
colorBar({ id: "hbar", x: 1374.7, w: 15, y0: 1007.8, y1: 1105.8, labelDomain: [-1, 1.5], labelRange: [1088.2, 1014],
  color: hColor, ticks: hLegendTicks, tx: 1393, fs: 15, whiteTicks: true, fmt: d3.format("~g") })
</script>
</body>
</html>
